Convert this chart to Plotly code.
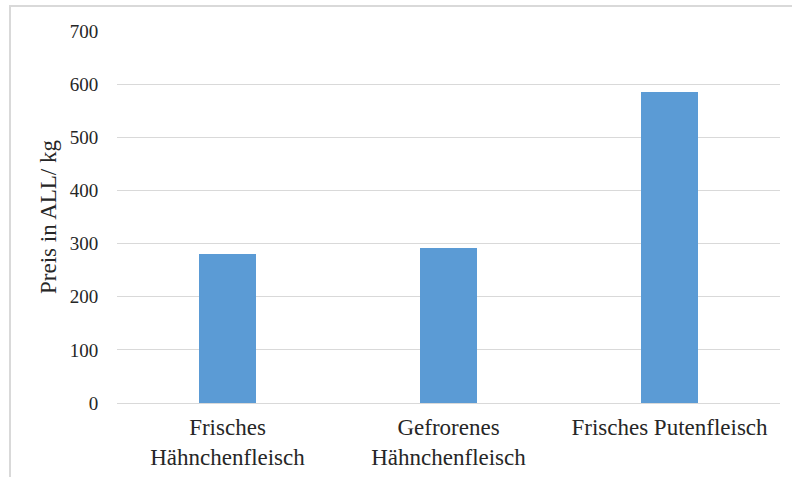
import plotly.graph_objects as go

categories = ["Frisches<br>Hähnchenfleisch", "Gefrorenes<br>Hähnchenfleisch", "Frisches Putenfleisch"]
prices = [281, 291, 586]
y_ticks = [0, 100, 200, 300, 400, 500, 600, 700]

W, H = 792, 477
L, R, T, B = 117, 12, 31, 74
pw, ph = W - L - R, H - T - B
SERIF = "Liberation Serif"

fig = go.Figure()
fig.add_trace(go.Bar(
    x=categories,
    y=prices,
    marker=dict(color="#5b9bd5", line=dict(width=0)),
    width=0.26,
))

# outer frame, expressed in paper coords
fig.add_shape(
    type="rect", xref="paper", yref="paper",
    x0=(10 - L) / pw, x1=(W + 5 - L) / pw,
    y0=(H - B - (H + 5)) / ph, y1=(H - B - 6) / ph,
    line=dict(color="#d9d9d9", width=2),
    layer="below",
)

fig.update_layout(
    width=W, height=H,
    margin=dict(l=L, r=R, t=T, b=B),
    paper_bgcolor="white",
    plot_bgcolor="white",
    showlegend=False,
    font=dict(family=SERIF, color="#262626"),
    bargap=0,
)
fig.update_xaxes(
    automargin=False,
    showgrid=False, showline=False, ticks="outside", ticklen=3, tickcolor="white",
    tickfont=dict(family=SERIF, size=23),
)
fig.update_yaxes(
    automargin=False,
    range=[0, 700],
    tickvals=y_ticks,
    showgrid=True, gridcolor="#d9d9d9", gridwidth=1,
    zeroline=True, zerolinecolor="#d9d9d9", zerolinewidth=1,
    showline=False, ticks="outside", ticklen=14, tickcolor="white",
    tickfont=dict(family=SERIF, size=19),
    title=dict(text="Preis in ALL/ kg", font=dict(family=SERIF, size=23), standoff=6),
)

fig.write_html("out.html", config={"displayModeBar": False},
               post_script="document.body.style.margin='0';")
